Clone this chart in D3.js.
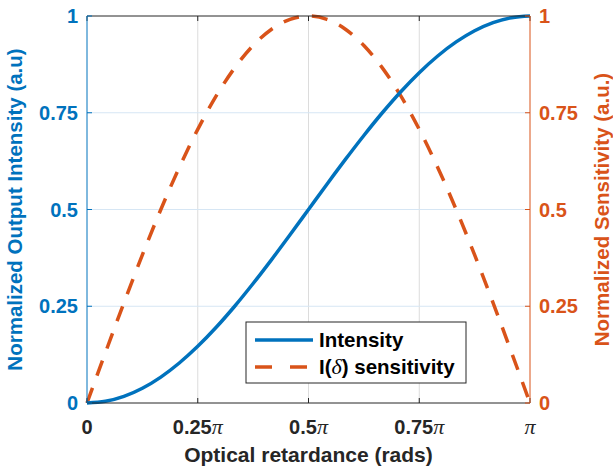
<!DOCTYPE html>
<html><head><meta charset="utf-8">
<script src="https://cdn.jsdelivr.net/npm/d3@7"></script>
<style>body{margin:0;background:#fff;} text{font-family:Arial,"Liberation Sans",Helvetica,sans-serif;font-weight:bold;}</style>
</head><body><svg id="c" width="613" height="468"></svg>
<script>
// x in units of pi
const retardance = [0,1/24,2/24,3/24,4/24,5/24,6/24,7/24,8/24,9/24,10/24,11/24,12/24,13/24,14/24,15/24,16/24,17/24,18/24,19/24,20/24,21/24,22/24,23/24,1];
const intensity = [0,0.0043,0.0170,0.0381,0.0670,0.1033,0.1464,0.1956,0.25,0.3087,0.3706,0.4347,0.5,0.5653,0.6294,0.6913,0.75,0.8044,0.8536,0.8967,0.9330,0.9619,0.9830,0.9957,1];
const sensitivity = [0,0.1305,0.2588,0.3827,0.5,0.6088,0.7071,0.7934,0.8660,0.9239,0.9659,0.9914,1,0.9914,0.9659,0.9239,0.8660,0.7934,0.7071,0.6088,0.5,0.3827,0.2588,0.1305,0];
const xTicks = [0,0.25,0.5,0.75,1];
const xTickLabels = ["0","0.25","0.5","0.75",""];
const yTicks = [0,0.25,0.5,0.75,1];
const yTickLabels = ["0","0.25","0.5","0.75","1"];

const blue="#0072BD", orange="#D95319", dark="#262626";
const L=87,R=530,T=16,B=403;
const svg=d3.select("#c");
const x=d3.scaleLinear().domain([0,1]).range([L,R]);
const yL=d3.scaleLinear().domain([0,1]).range([B,T]);
const yR=d3.scaleLinear().domain([0,1]).range([B,T]);

// grid
svg.append("g").selectAll("line").data(xTicks.slice(1,-1)).join("line")
  .attr("x1",d=>x(d)).attr("x2",d=>x(d)).attr("y1",T).attr("y2",B)
  .attr("stroke","#dcdcdc").attr("stroke-width",1);
svg.append("g").selectAll("line").data(yTicks.slice(1,-1)).join("line")
  .attr("x1",L).attr("x2",R).attr("y1",d=>yL(d)).attr("y2",d=>yL(d))
  .attr("stroke","#d6e6f4").attr("stroke-width",1);

// lines
const lineI=d3.line().x((d,i)=>x(retardance[i])).y(d=>yL(d)).curve(d3.curveMonotoneX);
const lineS=d3.line().x((d,i)=>x(retardance[i])).y(d=>yR(d)).curve(d3.curveMonotoneX);
svg.append("path").datum(sensitivity).attr("d",lineS).attr("fill","none")
  .attr("stroke",orange).attr("stroke-width",3.5).attr("stroke-dasharray","16,13");
svg.append("path").datum(intensity).attr("d",lineI).attr("fill","none")
  .attr("stroke",blue).attr("stroke-width",3.5);

// box lines
svg.append("line").attr("x1",L).attr("x2",R).attr("y1",T).attr("y2",T).attr("stroke",dark).attr("stroke-width",1);
svg.append("line").attr("x1",L).attr("x2",R).attr("y1",B).attr("y2",B).attr("stroke",dark).attr("stroke-width",1);
// x ticks top and bottom
xTicks.forEach(t=>{
  svg.append("line").attr("x1",x(t)).attr("x2",x(t)).attr("y1",B).attr("y2",B-5).attr("stroke",dark);
  svg.append("line").attr("x1",x(t)).attr("x2",x(t)).attr("y1",T).attr("y2",T+5).attr("stroke",dark);
});
// y axes
svg.append("line").attr("x1",L).attr("x2",L).attr("y1",T).attr("y2",B).attr("stroke",blue).attr("stroke-width",1);
svg.append("line").attr("x1",R).attr("x2",R).attr("y1",T).attr("y2",B).attr("stroke",orange).attr("stroke-width",1);
yTicks.forEach((t,i)=>{
  svg.append("line").attr("x1",L).attr("x2",L+5).attr("y1",yL(t)).attr("y2",yL(t)).attr("stroke",blue);
  svg.append("line").attr("x1",R).attr("x2",R-5).attr("y1",yR(t)).attr("y2",yR(t)).attr("stroke",orange);
  svg.append("text").attr("x",L-9).attr("y",yL(t)).attr("dy","0.35em").attr("text-anchor","end")
    .attr("font-size",20).attr("fill",blue).text(yTickLabels[i]);
  svg.append("text").attr("x",R+9).attr("y",yR(t)).attr("dy","0.35em").attr("text-anchor","start")
    .attr("font-size",20).attr("fill",orange).text(yTickLabels[i]);
});
xTicks.forEach((t,i)=>{
  const tx=svg.append("text").attr("x",x(t)).attr("y",427).attr("dy","0.35em").attr("text-anchor","middle")
    .attr("font-size",20).attr("fill",dark);
  tx.append("tspan").text(xTickLabels[i]);
  if(t>0) tx.append("tspan").attr("font-family","'Liberation Serif','DejaVu Serif',serif").attr("font-style","italic").attr("font-weight","normal").attr("font-size",22).text("π");
});
svg.append("text").attr("x",(L+R)/2).attr("y",455).attr("dy","0.35em").attr("text-anchor","middle")
  .attr("font-size",21).attr("fill",dark).text("Optical retardance (rads)");
svg.append("text").attr("transform",`translate(15,${(T+B)/2}) rotate(-90)`).attr("dy","0.35em").attr("text-anchor","middle")
  .attr("font-size",20.5).attr("fill",blue).text("Normalized Output Intensity (a.u)");
svg.append("text").attr("transform",`translate(602,${(T+B)/2}) rotate(-90)`).attr("dy","0.35em").attr("text-anchor","middle")
  .attr("font-size",20.5).attr("fill",orange).text("Normalized Sensitivity (a.u.)");

// legend
const lg=svg.append("g");
lg.append("rect").attr("x",246).attr("y",322).attr("width",220).attr("height",61).attr("fill","#fff").attr("stroke",dark).attr("stroke-width",1);
lg.append("line").attr("x1",255).attr("x2",313).attr("y1",340).attr("y2",340).attr("stroke",blue).attr("stroke-width",3.5);
lg.append("line").attr("x1",255).attr("x2",313).attr("y1",367).attr("y2",367).attr("stroke",orange).attr("stroke-width",3.5).attr("stroke-dasharray","17,18");
lg.append("text").attr("x",319).attr("y",340).attr("dy","0.35em").attr("font-size",20.5).attr("fill","#000").text("Intensity");
const t2=lg.append("text").attr("x",319).attr("y",367).attr("dy","0.35em").attr("font-size",20.5).attr("fill","#000");
t2.append("tspan").text("I(");
t2.append("tspan").attr("font-family","'Liberation Serif','DejaVu Serif',serif").attr("font-style","italic").attr("font-weight","normal").attr("font-size",22).text("δ");
t2.append("tspan").text(") sensitivity");
</script></body></html>
